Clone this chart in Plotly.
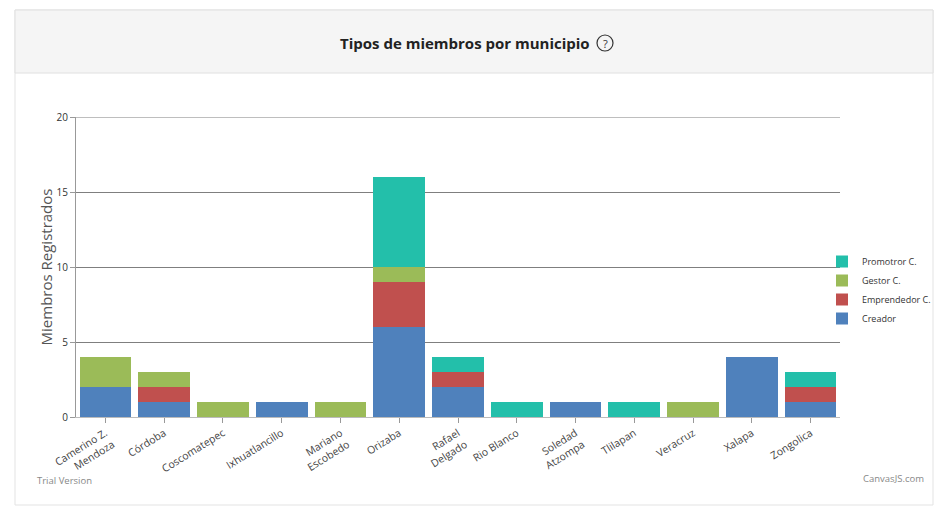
import plotly.graph_objects as go

categories = ["Camerino Z.<br>Mendoza", "Córdoba", "Coscomatepec", "Ixhuatlancillo",
              "Mariano<br>Escobedo", "Orizaba", "Rafael<br>Delgado", "Rio Blanco",
              "Soledad<br>Atzompa", "Tlilapan", "Veracruz", "Xalapa", "Zongolica"]
creador     = [2, 1, 0, 1, 0, 6, 2, 0, 1, 0, 0, 4, 1]
emprendedor = [0, 1, 0, 0, 0, 3, 1, 0, 0, 0, 0, 0, 1]
gestor      = [2, 1, 1, 0, 1, 1, 0, 0, 0, 0, 1, 0, 0]
promotor    = [0, 0, 0, 0, 0, 6, 1, 1, 0, 1, 0, 0, 1]
y_ticks = [0, 5, 10, 15, 20]

series = [("Creador", creador, "#4F81BC"),
          ("Emprendedor C.", emprendedor, "#C0504E"),
          ("Gestor C.", gestor, "#9BBB58"),
          ("Promotror C.", promotor, "#23BFAA")]

FONT = "Open Sans, sans-serif"
GRID = "#7f7f7f"

fig = go.Figure()
for name, vals, col in series:
    fig.add_trace(go.Bar(x=categories, y=vals, name=name,
                         marker=dict(color=col, line=dict(width=0))))

W, H = 935, 510
L, R, T, B = 76, 935 - 840, 117, 510 - 417
pw, ph = W - L - R, H - T - B

def px(x):  # page pixel -> paper x
    return (x - L) / pw

def py(y):  # page pixel -> paper y
    return (H - B - y) / ph

fig.update_layout(
    width=W, height=H, barmode="stack", bargap=0.12,
    margin=dict(l=L, r=R, t=T, b=B, autoexpand=False),
    paper_bgcolor="white", plot_bgcolor="white",
    font=dict(family=FONT, size=9, color="#444"),
    showlegend=True,
    legend=dict(xref="container", yref="container", x=822 / W, y=(H - 290) / H,
                xanchor="left", yanchor="middle",
                traceorder="reversed", font=dict(size=9, color="#333"),
                itemwidth=30, tracegroupgap=0, bgcolor="rgba(0,0,0,0)"),
    xaxis=dict(showgrid=False, showline=True, linecolor="#bbb", linewidth=1,
               ticks="outside", ticklen=5, tickcolor="#999", tickangle=-32,
               tickfont=dict(size=10.5, color="#444"), automargin=False),
    yaxis=dict(range=[0, 20], tickvals=y_ticks, showgrid=True, gridcolor=GRID,
               gridwidth=1, showline=True, linecolor="#999", linewidth=1,
               ticks="outside", ticklen=5, tickcolor="#999", zeroline=False,
               tickfont=dict(size=10, color="#333"), automargin=False,
               title=dict(text="Miembros Registrados",
                          font=dict(size=15, color="#555", family=FONT),
                          standoff=0)),
    shapes=[
        dict(type="rect", xref="paper", yref="paper",
             x0=px(15), x1=px(933), y0=py(505), y1=py(10),
             line=dict(color="#e3e3e3", width=1), fillcolor="rgba(0,0,0,0)", layer="below"),
        dict(type="rect", xref="paper", yref="paper",
             x0=px(15), x1=px(933), y0=py(73), y1=py(10),
             line=dict(color="#e0e0e0", width=1), fillcolor="#f5f5f5", layer="below"),
        dict(type="line", xref="paper", yref="y", x0=0, x1=1, y0=20, y1=20,
             line=dict(color=GRID, width=1)),
        dict(type="circle", xref="paper", yref="paper",
             x0=px(597), x1=px(613), y0=py(51), y1=py(35),
             line=dict(color="#333", width=1.2), fillcolor="rgba(0,0,0,0)"),
    ],
    annotations=[
        dict(text="<b>Tipos de miembros por municipio</b>", showarrow=False,
             xref="paper", yref="paper", x=px(592), y=py(43), xanchor="right", yanchor="middle",
             font=dict(size=15, color="#222", family=FONT)),
        dict(text="?", showarrow=False, xref="paper", yref="paper",
             x=px(605), y=py(43), xanchor="center", yanchor="middle",
             font=dict(size=11, color="#333", family=FONT)),
        dict(text="Trial Version", showarrow=False, xref="paper", yref="paper",
             x=px(35), y=py(480), xanchor="left", yanchor="middle",
             font=dict(size=9.5, color="#888", family=FONT)),
        dict(text="CanvasJS.com", showarrow=False, xref="paper", yref="paper",
             x=px(926), y=py(478), xanchor="right", yanchor="middle",
             font=dict(size=9.5, color="#888", family=FONT)),
    ],
)

fig.write_html("out.html", config={"displayModeBar": False},
               post_script="document.body.style.margin='0';document.body.style.overflow='hidden';")
